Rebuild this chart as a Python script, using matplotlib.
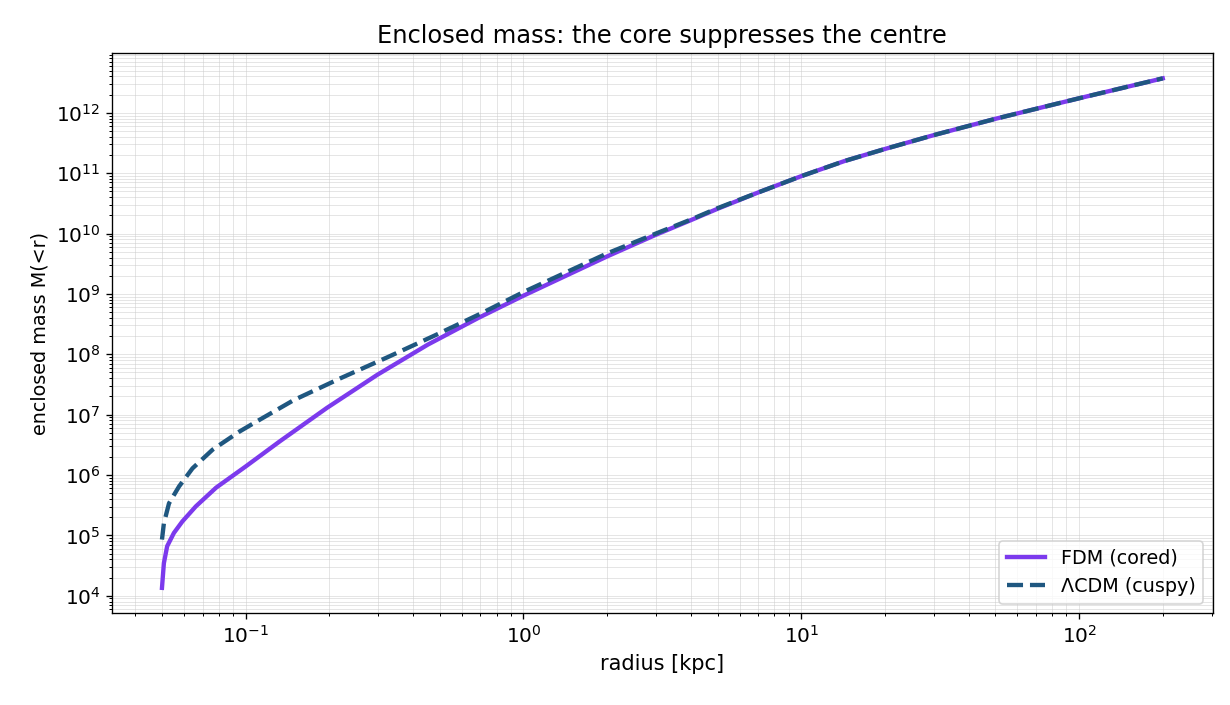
import matplotlib
matplotlib.use("Agg")
import matplotlib.pyplot as plt
import numpy as np

# radius [kpc] and log10 enclosed mass
r_fdm = [0.05, 0.0508, 0.0522, 0.0552, 0.0592, 0.0662, 0.0783, 0.1, 0.133, 0.196,
         0.298, 0.453, 0.687, 1.0, 2.0, 3.0, 4.0, 5.0, 7.0, 10.0, 14.3, 20.0,
         30.0, 50.0, 81.5, 100.0, 200.0]
logm_fdm = [4.13, 4.54, 4.82, 5.04, 5.23, 5.48, 5.79, 6.14, 6.56, 7.11,
            7.66, 8.16, 8.60, 8.97, 9.62, 9.98, 10.22, 10.41, 10.68, 10.95, 11.20, 11.40,
            11.63, 11.90, 12.14, 12.24, 12.57]

r_cdm = [0.05, 0.0508, 0.053, 0.0576, 0.0644, 0.0761, 0.0951, 0.109, 0.149, 0.219,
         0.324, 0.479, 0.707, 1.0, 2.0, 3.0, 4.0, 5.0, 7.0, 10.0, 14.3, 20.0,
         30.0, 50.0, 81.5, 100.0, 200.0]
logm_cdm = [4.93, 5.20, 5.53, 5.81, 6.11, 6.42, 6.72, 6.88, 7.24, 7.60,
            7.95, 8.31, 8.68, 9.03, 9.67, 10.00, 10.23, 10.42, 10.68, 10.95, 11.20, 11.40,
            11.63, 11.90, 12.14, 12.24, 12.57]

m_fdm = 10 ** np.array(logm_fdm)
m_cdm = 10 ** np.array(logm_cdm)

fig, ax = plt.subplots(figsize=(10.25, 5.875), dpi=120)
fig.subplots_adjust(left=0.091, right=0.986, top=0.925, bottom=0.13)

ax.loglog(r_fdm, m_fdm, color="#7c3aed", lw=2.6, label="FDM (cored)")
ax.loglog(r_cdm, m_cdm, color="#1f5780", lw=2.6, ls="--", label="ΛCDM (cuspy)")

ax.grid(True, which="both", color="#cccccc", alpha=0.6, lw=0.5)
ax.set_xlabel("radius [kpc]", fontsize=12.5)
ax.set_ylabel("enclosed mass M(<r)", fontsize=11.5)
ax.set_title("Enclosed mass: the core suppresses the centre", fontsize=14.5)
ax.tick_params(labelsize=12)
ax.legend(loc="lower right", fontsize=11.5)

fig.savefig("out.png", dpi=120)
